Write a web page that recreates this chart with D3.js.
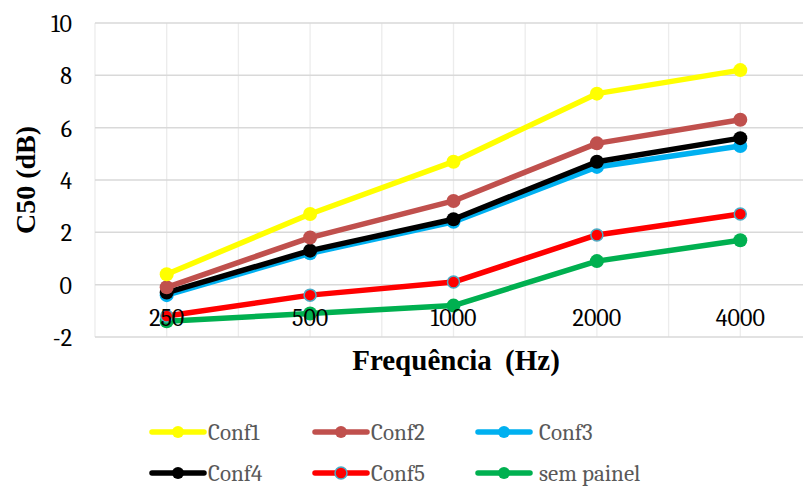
<!DOCTYPE html>
<html>
<head>
<meta charset="utf-8">
<script src="https://cdn.jsdelivr.net/npm/d3@7"></script>
<style>
  html, body { margin: 0; padding: 0; background: #fff; }
  svg { display: block; }
</style>
</head>
<body>
<svg id="chart" width="810" height="487"></svg>
<script>
// Frequency bands (Hz) and C50 values (dB) for each configuration
const frequencies = ["250", "500", "1000", "2000", "4000"];
const yTicks = [-2, 0, 2, 4, 6, 8, 10];

const conf1 = [0.4, 2.7, 4.7, 7.3, 8.2];
const conf2 = [-0.1, 1.8, 3.2, 5.4, 6.3];
const conf3 = [-0.4, 1.2, 2.4, 4.5, 5.3];
const conf4 = [-0.3, 1.3, 2.5, 4.7, 5.6];
const conf5 = [-1.2, -0.4, 0.1, 1.9, 2.7];
const semPainel = [-1.4, -1.1, -0.8, 0.9, 1.7];

const seriesNames = ["Conf1", "Conf2", "Conf3", "Conf4", "Conf5", "sem painel"];
const seriesValues = [conf1, conf2, conf3, conf4, conf5, semPainel];
const seriesColors = ["#ffff00", "#c0504d", "#00b0f0", "#000000", "#ff0000", "#00b050"];
const markerStroke = [null, null, null, null, "#4bacc6", null];

// Series drawn in this order so Conf4 sits above Conf3
const drawOrder = [2, 3, 1, 0, 5, 4];

const svg = d3.select("#chart");
const plot = { left: 95, right: 812, top: 23, bottom: 337, gridEnd: 803 };
const bodyFont = '"Caladea", "Liberation Serif", monospace';
const titleFont = '"Liberation Serif", "Tinos", monospace';

// Apply a font to a selection both as attribute and as inline style
function font(sel, family, size, weight) {
  sel.attr("font-family", family).attr("font-size", size)
     .style("font-family", family).style("font-size", size + "px");
  if (weight) sel.attr("font-weight", weight).style("font-weight", weight);
  return sel;
}

const x = d3.scaleBand().domain(frequencies).range([plot.left, plot.right]);
const y = d3.scaleLinear().domain([-2, 10]).range([plot.bottom, plot.top]);
const cx = f => x(f) + x.bandwidth() / 2;

// Vertical gridlines at band edges and band centres
const vLines = [];
frequencies.forEach(f => { vLines.push(x(f)); vLines.push(cx(f)); });
svg.append("g").selectAll("line").data(vLines).join("line")
  .attr("x1", d => d).attr("x2", d => d)
  .attr("y1", plot.top).attr("y2", plot.bottom)
  .attr("stroke", "#ececec").attr("stroke-width", 1.3);

// Horizontal gridlines
svg.append("g").selectAll("line").data(yTicks).join("line")
  .attr("x1", plot.left).attr("x2", plot.gridEnd)
  .attr("y1", d => y(d)).attr("y2", d => y(d))
  .attr("stroke", "#d9d9d9").attr("stroke-width", 1.5);

// Y axis tick labels
const yAxis = d3.axisLeft(y).tickValues(yTicks).tickSize(0).tickPadding(0)
  .tickFormat(d => d);
const yg = svg.append("g").attr("transform", `translate(${plot.left - 23},0)`).call(yAxis);
yg.attr("font-family", null).attr("font-size", null);
yg.select(".domain").remove();
font(yg.selectAll("text"), bodyFont, 24).attr("fill", "#000").attr("dy", "0.36em");

// Series lines and markers
const line = d3.line()
  .x((d, i) => cx(frequencies[i]))
  .y(d => y(d));

drawOrder.forEach(k => {
  const g = svg.append("g");
  g.append("path")
    .datum(seriesValues[k])
    .attr("d", line)
    .attr("fill", "none")
    .attr("stroke", seriesColors[k])
    .attr("stroke-width", 5.5)
    .attr("stroke-linejoin", "round");
  g.selectAll("circle").data(seriesValues[k]).join("circle")
    .attr("cx", (d, i) => cx(frequencies[i]))
    .attr("cy", d => y(d))
    .attr("r", markerStroke[k] ? 6 : 7)
    .attr("fill", seriesColors[k])
    .attr("stroke", markerStroke[k] || "none")
    .attr("stroke-width", markerStroke[k] ? 1.5 : 0);
});

// X axis tick labels, placed low inside the plot area and above the series
const xAxis = d3.axisBottom(x).tickSize(0).tickPadding(0);
const xg = svg.append("g").attr("transform", `translate(0,${y(-1.25)})`).call(xAxis);
xg.attr("font-family", null).attr("font-size", null);
xg.select(".domain").remove();
font(xg.selectAll("text"), bodyFont, 24).attr("fill", "#000").attr("dy", "0.36em");

// Axis titles
font(svg.append("text"), titleFont, 28, "bold")
  .attr("transform", `translate(35,${(plot.top + plot.bottom) / 2}) rotate(-90)`)
  .attr("text-anchor", "middle")
  .attr("fill", "#000")
  .text("C50 (dB)");

font(svg.append("text"), titleFont, 29, "bold")
  .attr("x", 456).attr("y", 370)
  .attr("text-anchor", "middle")
  .attr("word-spacing", 6).style("word-spacing", "6px")
  .attr("fill", "#000")
  .text("Frequência (Hz)");

// Legend: two rows of three entries
const legendX = [152, 315, 478];
const legendY = [432, 473];
seriesNames.forEach((name, k) => {
  const col = k % 3, row = Math.floor(k / 3);
  const lx = legendX[col], ly = legendY[row];
  const g = svg.append("g");
  g.append("line")
    .attr("x1", lx).attr("x2", lx + 52)
    .attr("y1", ly).attr("y2", ly)
    .attr("stroke", seriesColors[k]).attr("stroke-width", 5.5)
    .attr("stroke-linecap", "round");
  g.append("circle")
    .attr("cx", lx + 26).attr("cy", ly)
    .attr("r", 6)
    .attr("fill", seriesColors[k])
    .attr("stroke", markerStroke[k] || "none")
    .attr("stroke-width", markerStroke[k] ? 1.5 : 0);
  font(g.append("text"), bodyFont, 23)
    .attr("x", lx + (col === 2 ? 61 : 56)).attr("y", ly)
    .attr("dy", "0.35em")
    .attr("fill", "#595959")
    .text(name);
});
</script>
</body>
</html>
